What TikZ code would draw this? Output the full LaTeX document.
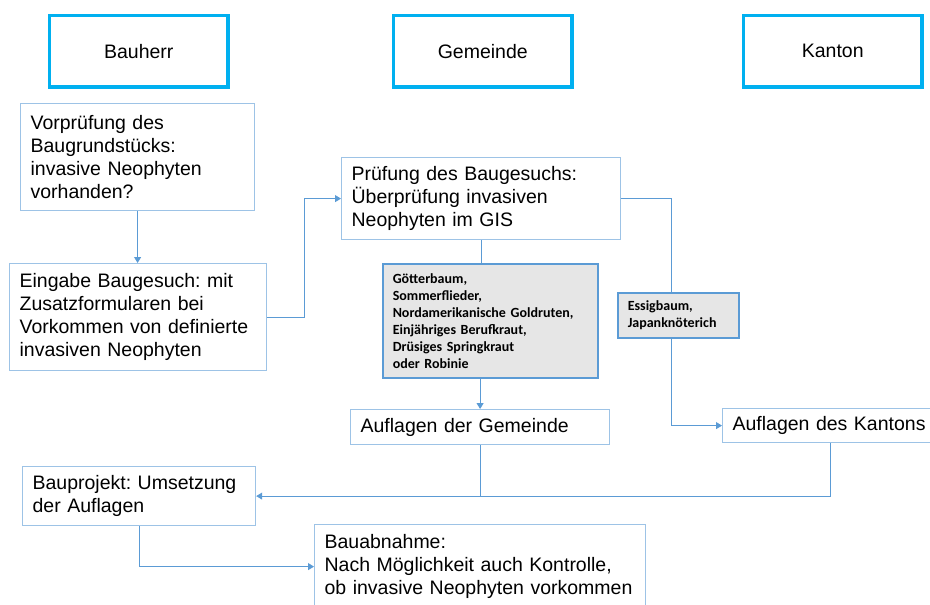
\documentclass[tikz,border=0pt]{standalone}
\usepackage{fontspec}
\setmainfont{Liberation Sans}
\newfontfamily\graufont{Carlito}
\usetikzlibrary{arrows.meta}
\definecolor{kopfblau}{HTML}{00B0F0}
\definecolor{rahmenblau}{HTML}{9DC3E6}
\definecolor{linienblau}{HTML}{5B9BD5}
\definecolor{graufill}{HTML}{E6E6E6}
\frenchspacing

\begin{document}
\begin{tikzpicture}
  [x=1pt,y=-1pt,
   every node/.style={anchor=north west,inner xsep=10pt,inner ysep=0pt,
     align=left,font=\fontsize{19.5}{23}\selectfont},
   kopf/.style={draw=kopfblau,line width=3.5pt,minimum width=178.5pt,
     minimum height=71.5pt,align=center},
   box/.style={draw=rahmenblau,line width=1.2pt},
   grau/.style={draw=linienblau,fill=graufill,line width=1.5pt,
     font=\graufont\bfseries\fontsize{14}{17}\selectfont},
   verb/.style={draw=linienblau,line width=1pt},
   pfeil/.style={verb,-{Triangle[width=7pt,length=6pt]}}]
  \path[use as bounding box] (0,0) rectangle (930,605);
  \clip (0,0) rectangle (930,605);

  % Spalten
  \node[kopf] (bauherr) at (47.75,13.75) {Bauherr};
  \node[kopf] (gemeinde) at (391.75,13.75) {Gemeinde};
  \node[kopf] (kanton) at (741.75,13.75) {Kanton};

  % Ablauf
  \node[box,text width=214,minimum height=107] (vorpruefung) at (20,103)
    {Vorprüfung des\\Baugrundstücks:\\invasive Neophyten\\vorhanden?};
  \node[box,text width=237,minimum height=107] (eingabe) at (9,263)
    {Eingabe Baugesuch: mit\\Zusatzformularen bei\\Vorkommen von definierte\\invasiven Neophyten};
  \node[box,text width=259,minimum height=82] (pruefung) at (341,157)
    {Prüfung des Baugesuchs:\\Überprüfung invasiven\\Neophyten im GIS};
  \node[grau,text width=195,minimum height=114] (artenG) at (382,263)
    {Götterbaum,\\Sommerflieder,\\Nordamerikanische Goldruten,\\Einjähriges Berufkraut,\\Drüsiges Springkraut\\oder Robinie};
  \node[grau,text width=101,minimum height=45] (artenK) at (617,292)
    {Essigbaum,\\Japanknöterich};
  \node[box,text width=239,minimum height=35] (auflagenG) at (350,409)
    {Auflagen der Gemeinde};
  \node[box,text width=196,minimum height=34] (auflagenK) at (722,408)
    {Auflagen des Kantons};
  \node[box,text width=213,minimum height=59] (bauprojekt) at (22,466)
    {Bauprojekt: Umsetzung\\der Auflagen};
  \node[box,text width=311,minimum height=84] (bauabnahme) at (314,524)
    {Bauabnahme:\\Nach Möglichkeit auch Kontrolle,\\ob invasive Neophyten vorkommen};

  % Verbindungen
  \draw[pfeil] (vorpruefung.south) -- (vorpruefung.south |- eingabe.north);
  \draw[pfeil] (eingabe.east) -- ++(37,0) |- (pruefung.west);
  \draw[verb] (pruefung.south) -- (pruefung.south |- artenG.north);
  \draw[pfeil] (auflagenG.north |- artenG.south) -- (auflagenG.north);
  \draw[verb] (pruefung.east) -| ([xshift=-6.5pt]artenK.north);
  \draw[pfeil] ([xshift=-6.5pt]artenK.south) |- (auflagenK.west);
  \draw[verb] (auflagenG.south) -- (auflagenG.south |- bauprojekt.east);
  \draw[pfeil] (auflagenK.south) |- (bauprojekt.east);
  \draw[pfeil] (bauprojekt.south) |- (bauabnahme.west);

\end{tikzpicture}
\end{document}
